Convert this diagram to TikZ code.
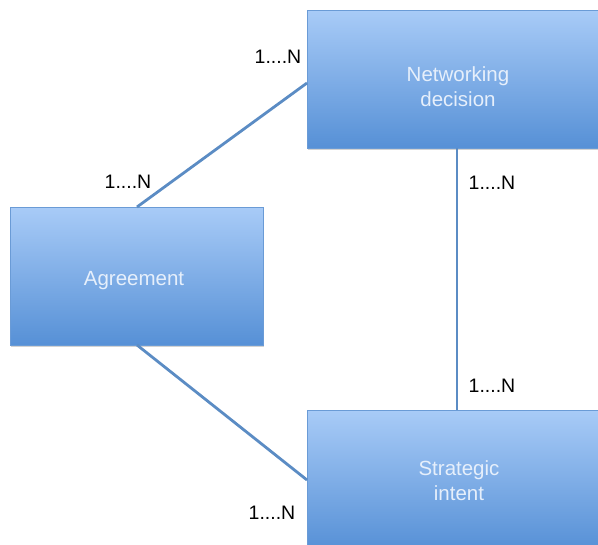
\documentclass[tikz,border=0pt]{standalone}
\usepackage{fontspec}
\setmainfont{Liberation Sans}
\usetikzlibrary{shadows}
\definecolor{boxtop}{HTML}{A8CBF7}
\definecolor{boxbot}{HTML}{5690D6}
\definecolor{boxedge}{HTML}{6A9BD6}
\definecolor{linkblue}{HTML}{5B8CC4}
\definecolor{boxtext}{HTML}{E6EFFB}
\begin{document}
\begin{tikzpicture}[x=1pt,y=-1pt,
  entity/.style={draw=boxedge, line width=0.6pt, top color=boxtop, bottom color=boxbot,
    anchor=north west, inner sep=0pt,
    drop shadow={shadow xshift=1pt, shadow yshift=-2pt, opacity=0.35}},
  title/.style={font=\fontsize{20.5}{25}\selectfont, text=boxtext, align=center},
  link/.style={draw=linkblue, line width=2.8pt},
  card/.style={font=\fontsize{19.5}{23}\selectfont, text=black}]
\useasboundingbox (0,0) rectangle (598,545);
\clip (0,0) rectangle (598,545);
\fill[white] (0,0) rectangle (598,545);
% entity boxes
\node[entity, minimum width=304pt, minimum height=138pt] (net) at (307,10) {};
\node[entity, minimum width=253pt, minimum height=138pt] (agr) at (10,207) {};
\node[entity, minimum width=304pt, minimum height=140pt] (str) at (307,410) {};
% entity names
\node[title] (nettxt) at (458,87) {Networking\\decision};
\node[title] (agrtxt) at (134,281) {Agreement};
\node[title] (strtxt) at (459,481) {Strategic\\intent};
% connectors
\coordinate (agrtop) at (137,207);
\coordinate (agrbot) at (137,345);
\coordinate (netleft) at (307,83);
\coordinate (strleft) at (307,480);
\coordinate (netbot) at (457,148);
\coordinate (strtop) at (457,410);
\draw[link] (agrtop) -- (netleft);
\draw[link] (agrbot) -- (strleft);
\draw[link] (netbot) -- (strtop);
% cardinalities
\node[card] (c1) at (278,57) {1....N};
\node[card] (c2) at (128,182) {1....N};
\node[card] (c3) at (492,183) {1....N};
\node[card] (c4) at (492,386) {1....N};
\node[card] (c5) at (272,513) {1....N};
\end{tikzpicture}
\end{document}
